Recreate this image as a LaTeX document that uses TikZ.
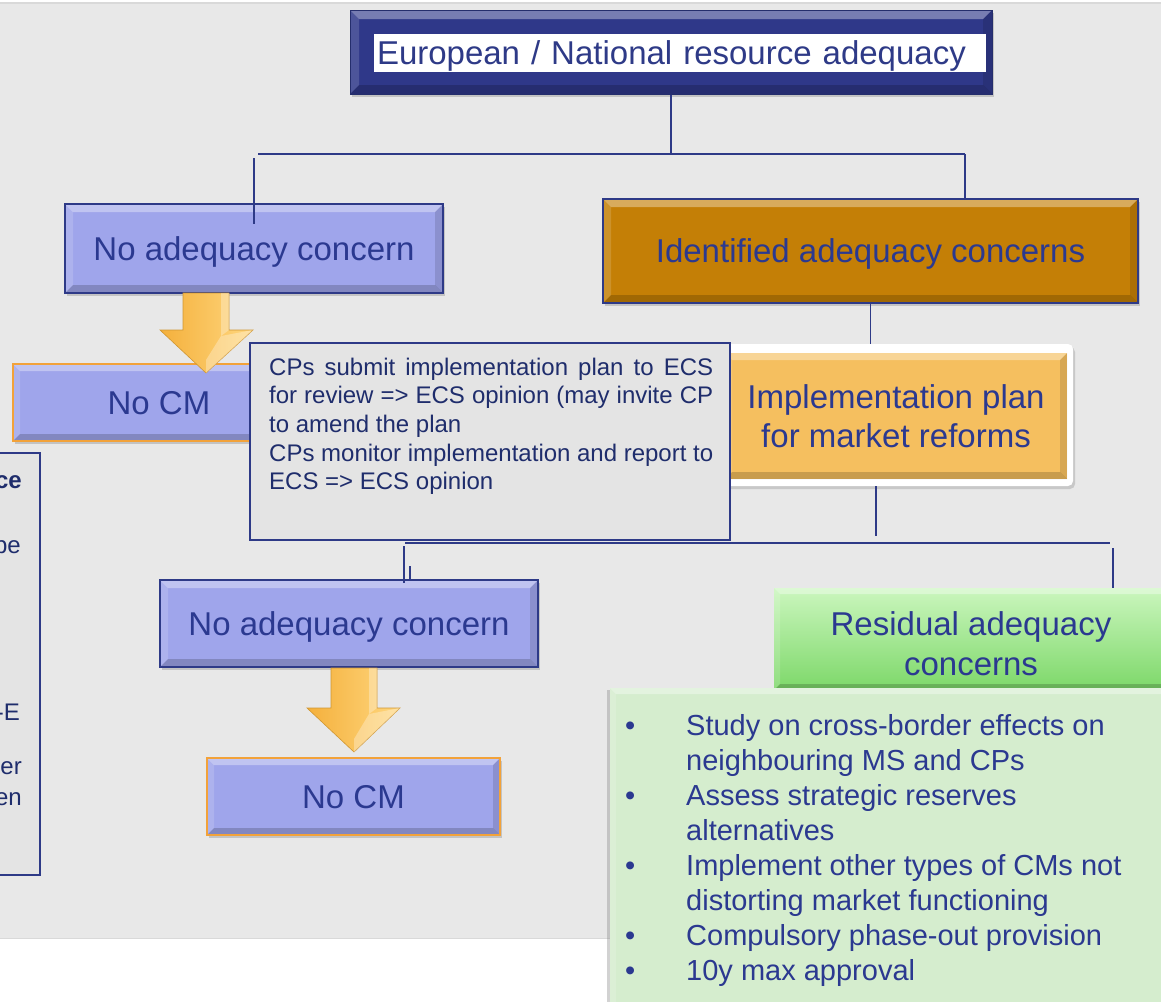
\documentclass[tikz,border=0pt]{standalone}
\usepackage{fontspec}
\setmainfont{Liberation Sans}
\usetikzlibrary{shadows,calc}
\definecolor{navy}{HTML}{2E3A87}
\definecolor{titlefill}{HTML}{2F3889}
\definecolor{txt}{HTML}{2B3990}
\definecolor{dtxt}{HTML}{1F2D6C}
\definecolor{lav}{HTML}{9FA5EB}
\definecolor{ochre}{HTML}{C47F06}
\definecolor{lorange}{HTML}{F5BF5F}
\definecolor{orangeline}{HTML}{F2A23A}
\definecolor{bggray}{HTML}{E8E8E8}
\definecolor{boxgray}{HTML}{E4E4E4}
\definecolor{gtop}{HTML}{CBF6BE}
\definecolor{gbot}{HTML}{7DD869}
\definecolor{lgreen}{HTML}{D5EDCE}
\definecolor{golddark}{HTML}{F4B03C}
\definecolor{goldlight}{HTML}{FFD77F}
\newcommand\fbig{\fontsize{33}{39.5}\selectfont}
\newcommand\fmid{\fontsize{29}{35}\selectfont}
\newcommand\fsml{\fontsize{24}{28.7}\selectfont}
\tikzset{
  conn/.style={draw=navy,line width=1.8pt},
  box/.style={rectangle,inner sep=0pt,align=center,text=txt,font=\fbig},
  oneline/.style={text depth=0pt},
  shad/.style={drop shadow={opacity=.35,shadow xshift=2pt,shadow yshift=-3pt}},
  bevel/.style={path picture={
    \path (path picture bounding box.north west) coordinate (pnw)
          (path picture bounding box.north east) coordinate (pne)
          (path picture bounding box.south west) coordinate (psw)
          (path picture bounding box.south east) coordinate (pse);
    \fill[white,opacity=.35] (pnw) -- (pne) -- ([xshift=-#1,yshift=-#1]pne) -- ([xshift=#1,yshift=-#1]pnw) -- cycle;
    \fill[white,opacity=.15] (pnw) -- ([xshift=#1,yshift=-#1]pnw) -- ([xshift=#1,yshift=#1]psw) -- (psw) -- cycle;
    \fill[black,opacity=.12] (pne) -- ([xshift=-#1,yshift=-#1]pne) -- ([xshift=-#1,yshift=#1]pse) -- (pse) -- cycle;
    \fill[black,opacity=.18] (psw) -- ([xshift=#1,yshift=#1]psw) -- ([xshift=-#1,yshift=#1]pse) -- (pse) -- cycle;
  }},
  goldarrow/.style={left color=golddark,right color=goldlight,draw=golddark!85!black,line width=.6pt,line join=miter},
  goldhi/.style={fill=white,opacity=.3}
}
\begin{document}
\begin{tikzpicture}[x=1pt,y=-1pt]
\useasboundingbox (0,0) rectangle (1161,1001);
% background
\fill[white] (0,0) rectangle (1161,1001);
\fill[bggray] (-5,3) rectangle (1166,938);
\draw[black!15,line width=1.5pt] (-5,3) -- (1166,3);
\draw[black!15,line width=1pt] (-5,938) -- (1166,938);

% left partial box
\node[rectangle,draw=navy,line width=1.2pt,fill=boxgray,minimum width=60pt,minimum height=422pt,inner sep=0] (leftbox) at (10,664) {};
\node[anchor=base east,inner sep=0,text=dtxt,font=\fsml\bfseries] (lf1) at (22,488) {ce};
\node[anchor=base east,inner sep=0,text=dtxt,font=\fsml] (lf2) at (21,553) {be};
\node[anchor=base east,inner sep=0,text=dtxt,font=\fsml] (lf3) at (20,720) {-E};
\node[anchor=base east,inner sep=0,text=dtxt,font=\fsml] (lf4) at (22,774) {er};
\node[anchor=base east,inner sep=0,text=dtxt,font=\fsml] (lf5) at (22,805) {en};

% title
\node[rectangle,fill=titlefill,draw=navy!80!black,line width=1pt,minimum width=642pt,minimum height=84pt,inner sep=0,shad,bevel=9pt] (top) at (671,52) {};
\node[rectangle,fill=white,minimum width=612pt,minimum height=38pt,text width=606pt,inner xsep=3pt,inner ysep=0pt,align=left,text=navy,font=\fbig,oneline] (ttext) at (680,53) {European / National resource adequacy};

% level 1
\node[box,oneline,fill=lav,draw=navy,line width=1.5pt,minimum width=378pt,minimum height=89pt,shad,bevel=8pt] (na1) at (254,248.5) {No adequacy concern};
\node[box,oneline,fill=ochre,draw=navy,line width=1.5pt,minimum width=535pt,minimum height=104pt,shad,bevel=8pt] (ida) at (870.5,251) {Identified adequacy concerns};

% No CM 1
\node[box,oneline,fill=lav,draw=orangeline,line width=1.5pt,minimum width=292pt,minimum height=77pt,shad,bevel=7pt] (nocm1) at (159,402.5) {No CM};

% implementation plan
\node[rectangle,fill=white,rounded corners=5pt,minimum width=355pt,minimum height=142pt,inner sep=0,drop shadow={opacity=.3,shadow xshift=2pt,shadow yshift=-3pt}] (impl) at (895.5,415) {};
\node[box,fill=lorange,minimum width=342pt,minimum height=126pt,bevel=7pt] (implin) at (896,416) {Implementation plan\\for market reforms};

% callout
\node[rectangle,fill=boxgray,draw=navy,line width=1.2pt,minimum width=480pt,minimum height=197pt,inner sep=0] (callout) at (490,441.5) {};
\node[anchor=base west,text width=444pt,align=justify,inner sep=0,text=dtxt,font=\fsml] (ctext) at (269,375) {CPs submit implementation plan to ECS\linebreak for review => ECS opinion (may invite CP\linebreak to amend the plan\\CPs monitor implementation and report to\linebreak ECS => ECS opinion};

% gold arrow 1
\path[goldarrow] (183,293) -- (229,293) -- (229,330) -- (253,330) -- (206,373) -- (160,330) -- (183,330) -- cycle;
\fill[goldhi] (221,293) -- (229,293) -- (229,330) -- (221,336) -- cycle;
\fill[goldhi] (221,336) -- (253,330) -- (206,373) -- (206,360) -- cycle;

% level 2
\node[box,oneline,fill=lav,draw=navy,line width=1.5pt,minimum width=378pt,minimum height=87pt,shad,bevel=8pt] (na2) at (349,623.5) {No adequacy concern};
\node[box,oneline,fill=lav,draw=orangeline,line width=1.5pt,minimum width=293pt,minimum height=77pt,shad,bevel=7pt] (nocm2) at (353.5,796.5) {No CM};
% gold arrow 2
\path[goldarrow] (331,668) -- (377,668) -- (377,708) -- (400,708) -- (354,752) -- (307,708) -- (331,708) -- cycle;
\fill[goldhi] (369,668) -- (377,668) -- (377,708) -- (369,714) -- cycle;
\fill[goldhi] (369,714) -- (400,708) -- (354,752) -- (354,739) -- cycle;

\node[box,top color=gtop,bottom color=gbot,minimum width=394pt,minimum height=102pt,shad,bevel=6pt] (res) at (971,639) {\raisebox{-15pt}[0pt][0pt]{\begin{tabular}{@{}c@{}}Residual adequacy\\concerns\end{tabular}}};
\node[rectangle,fill=lgreen,minimum width=565pt,minimum height=322pt,inner sep=0,drop shadow={opacity=.35,shadow xshift=-3pt,shadow yshift=-2pt},bevel=6pt] (list) at (892.5,849) {};
\node[anchor=base west,inner sep=0,text=txt,font=\fmid,align=left] (ltext) at (625,735) {\begin{tabular}[t]{@{}p{61pt}@{}l@{}}
\textbullet & Study on cross-border effects on\\
 & neighbouring MS and CPs\\
\textbullet & Assess strategic reserves\\
 & alternatives\\
\textbullet & Implement other types of CMs not\\
 & distorting market functioning\\
\textbullet & Compulsory phase-out provision\\
\textbullet & 10y max approval
\end{tabular}};

% connectors
\coordinate (j1) at (671,154);
\coordinate (hl) at (258,154);
\coordinate (hr) at (965,154);
\coordinate (vl) at (254,158);
\draw[conn] (top.south) -- (j1);
\draw[conn] (hl) -- (hr);
\draw[conn] (vl) -- ($(na1.north)+(0,21)$);
\draw[conn] (hr) -- (hr |- ida.north);
\draw[conn] (ida.south) -- (ida.south |- impl.north);
\coordinate (ib) at (876,536);
\draw[conn] (ib |- impl.south) -- (ib);
\coordinate (h2l) at (405,543);
\coordinate (h2r) at (1110,543);
\draw[conn] (h2l) -- (h2r);
\coordinate (vl2) at (404,546);
\draw[conn] (vl2) -- ([yshift=-4pt]vl2 |- na2.north);
\coordinate (stub) at (410,566);
\draw[conn,line width=1.4pt] (stub) -- (stub |- na2.north);
\coordinate (vr2) at (1113,548);
\draw[conn] (vr2) -- (vr2 |- res.north);
\end{tikzpicture}
\end{document}
